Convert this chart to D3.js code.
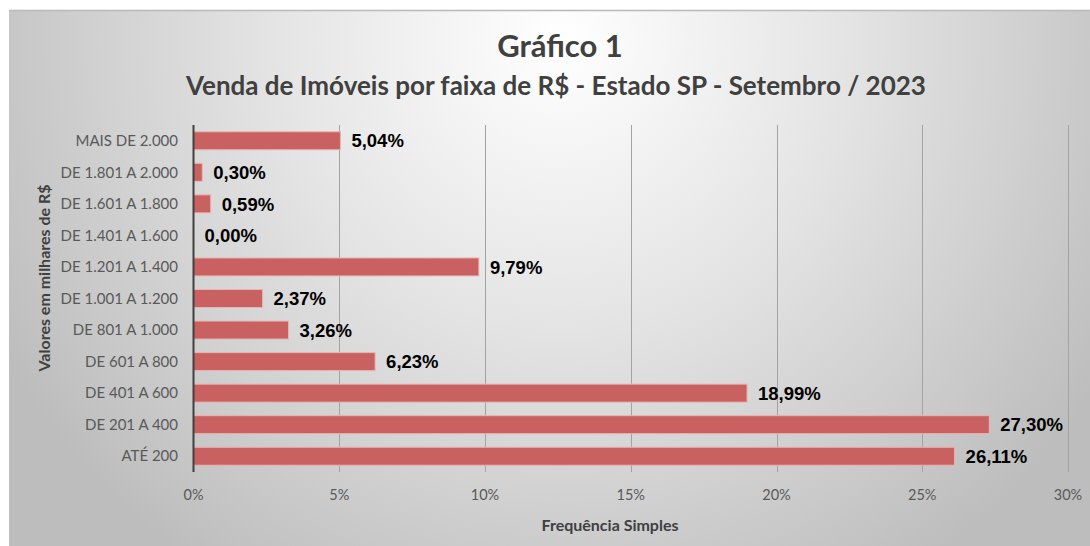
<!DOCTYPE html>
<html><head><meta charset="utf-8">
<script src="https://cdn.jsdelivr.net/npm/d3@7"></script>
<style>html,body{margin:0;padding:0;background:#fff;}svg{display:block;}</style>
</head><body>
<svg id="chart" width="1090" height="546"></svg>
<script>
const titleText = "Gráfico 1";
const subtitleText = "Venda de Imóveis por faixa de R$ - Estado SP - Setembro / 2023";
const yAxisTitle = "Valores em milhares de R$";
const xAxisTitle = "Frequência Simples";
const categories = ["MAIS DE 2.000","DE 1.801 A 2.000","DE 1.601 A 1.800","DE 1.401 A 1.600","DE 1.201 A 1.400","DE 1.001 A 1.200","DE 801 A 1.000","DE 601 A 800","DE 401 A 600","DE 201 A 400","ATÉ 200"];
const values = [5.04, 0.30, 0.59, 0.00, 9.79, 2.37, 3.26, 6.23, 18.99, 27.30, 26.11];
const xTicks = [0, 5, 10, 15, 20, 25, 30];

const svg = d3.select("#chart");
const defs = svg.append("defs");
const grad = defs.append("radialGradient").attr("id","bg")
  .attr("gradientUnits","userSpaceOnUse").attr("cx",560).attr("cy",40).attr("r",640);
grad.append("stop").attr("offset","0").attr("stop-color","#ffffff");
grad.append("stop").attr("offset","0.45").attr("stop-color","#e4e4e4");
grad.append("stop").attr("offset","1").attr("stop-color","#bdbdbd");

svg.append("rect").attr("x",9).attr("y",10).attr("width",1081).attr("height",536).attr("fill","url(#bg)");
svg.append("line").attr("x1",9).attr("x2",1090).attr("y1",10.5).attr("y2",10.5).attr("stroke","#b9b9b9").attr("stroke-width",1.5);

const x = d3.scaleLinear().domain([0,30]).range([193.5,1068]);
const y = d3.scaleBand().domain(categories).range([125,472]).paddingInner(0.43).paddingOuter(0.215);

// gridlines
svg.append("g").selectAll("line").data(xTicks.filter(d=>d>0)).join("line")
  .attr("x1",d=>Math.round(x(d))+0.5).attr("x2",d=>Math.round(x(d))+0.5)
  .attr("y1",125).attr("y2",472).attr("stroke","#a3a3a3").attr("stroke-width",1);

// bars
svg.append("g").selectAll("rect").data(values).join("rect")
  .attr("x",x(0)).attr("y",(d,i)=>y(categories[i]))
  .attr("width",d=>x(d)-x(0)).attr("height",y.bandwidth())
  .attr("fill","#c8615f").attr("stroke","#e9b5b3").attr("stroke-width",d=>d>0?1:0);

// y axis line
svg.append("line").attr("x1",x(0)).attr("x2",x(0)).attr("y1",125).attr("y2",472)
  .attr("stroke","#404040").attr("stroke-width",2);

// category labels
svg.append("g").selectAll("text").data(categories).join("text")
  .attr("x",178).attr("y",d=>y(d)+y.bandwidth()/2).attr("dy","0.35em")
  .attr("text-anchor","end").attr("font-family","Lato, 'Open Sans', sans-serif")
  .attr("font-size",15).attr("fill","#595959").text(d=>d);

// x tick labels
svg.append("g").selectAll("text").data(xTicks).join("text")
  .attr("x",d=>x(d)).attr("y",495).attr("dy","0.35em").attr("text-anchor","middle")
  .attr("font-family","Lato, 'Open Sans', sans-serif").attr("font-size",14.5).attr("fill","#595959")
  .text(d=>d+"%");

// value labels
const fmt = v => v.toFixed(2).replace(".",",")+"%";
svg.append("g").selectAll("text").data(values).join("text")
  .attr("x",d=>x(d)+11).attr("y",(d,i)=>y(categories[i])+y.bandwidth()/2).attr("dy","0.36em")
  .attr("font-family","'Liberation Sans', Arial, sans-serif").attr("font-weight","bold")
  .attr("font-size",18.5).attr("fill","#000").text(fmt);

// titles
svg.append("text").attr("x",560).attr("y",57).attr("text-anchor","middle")
  .attr("font-family","Lato, sans-serif").attr("font-weight","bold").attr("font-size",31)
  .attr("fill","#404040").text(titleText);
svg.append("text").attr("x",556).attr("y",95).attr("text-anchor","middle")
  .attr("font-family","Lato, sans-serif").attr("font-weight","bold").attr("font-size",26)
  .attr("fill","#404040").text(subtitleText);

svg.append("text").attr("x",610).attr("y",531).attr("text-anchor","middle")
  .attr("font-family","Lato, sans-serif").attr("font-weight","bold").attr("font-size",16)
  .attr("fill","#404040").text(xAxisTitle);
svg.append("text").attr("transform","translate(50,278) rotate(-90)").attr("text-anchor","middle")
  .attr("font-family","Lato, sans-serif").attr("font-weight","bold").attr("font-size",16)
  .attr("fill","#404040").text(yAxisTitle);
</script>
</body></html>
